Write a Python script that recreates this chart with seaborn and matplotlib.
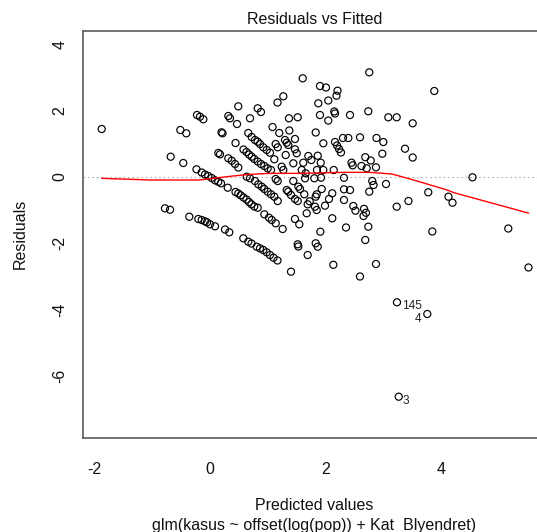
import matplotlib
matplotlib.use("Agg")
import matplotlib.pyplot as plt
import seaborn as sns
import numpy as np
import pandas as pd

# Fitted values (linear predictor) and deviance residuals of the Poisson GLM
fitted = [
    -1.872, -0.510, -0.407, -0.677, -0.459, -0.776, -0.689, -0.221, -0.169, -0.112,
    0.321, 0.350, 0.472, 0.494, 0.203, 0.221, 0.446, 0.148, 0.177, 0.321,
    0.380, 0.437, 0.494, -0.230, -0.140, -0.083, -0.025, 0.033, 0.091, 0.148,
    0.195, 0.311, 0.446, 0.494, 0.536, 0.584, 0.636, 0.680, 0.723, 0.771,
    0.830, 0.945, 1.026, 1.073, 1.142, 1.263, -0.355, -0.199, -0.140, -0.083,
    -0.048, 0.004, 0.091, 0.264, 0.338, 0.581, 0.667, 0.723, 0.813, 0.870,
    0.927, 0.986, 1.043, 1.104, 1.173, 0.640, 0.697, 0.783, 0.841, 0.900,
    0.945, 1.003, 1.061, 1.118, 1.177, 0.584, 0.636, 0.680, 0.726, 0.771,
    0.830, 0.887, 0.945, 1.003, 1.061, 1.142, 1.177, 1.333, 1.360, 1.407,
    1.476, 1.523, 0.667, 0.726, 0.783, 0.830, 0.870, 0.927, 0.986, 1.043,
    1.118, 1.246, 1.274, 1.447, 1.534, 1.563, 1.637, 0.697, 0.830, 0.887,
    1.087, 1.204, 1.378, 1.476, 1.274, 1.173, 1.372, 1.523, 1.610, 1.142,
    1.177, 1.303, 1.333, 1.360, 1.476, 1.506, 1.315, 1.447, 1.592, 1.662,
    1.620, 1.707, 1.759, 1.870, 1.922, 1.857, 1.967, 2.147, 1.650, 1.811,
    1.927, 1.852, 1.835, 1.939, 2.122, 2.065, 1.996, 1.823, 1.852, 1.696,
    1.679, 1.731, 1.476, 1.551, 2.122, 1.915, 1.523, 1.534, 1.835, 1.870,
    1.696, 2.140, 1.407, 1.909, 2.013, 2.213, 2.195, 2.053, 1.880, 2.157,
    2.169, 1.909, 2.053, 2.429, 2.746, 2.763, 3.093, 3.238, 3.515, 3.889,
    1.835, 1.967, 2.169, 2.204, 2.239, 2.273, 2.308, 2.400, 2.602, 2.888,
    3.006, 3.382, 3.515, 2.989, 2.694, 2.788, 2.455, 2.476, 2.628, 2.718,
    2.879, 2.325, 2.815, 2.836, 3.053, 2.763, 2.325, 2.429, 2.325, 2.486,
    2.524, 2.672, 2.706, 2.663, 3.238, 3.442, 3.785, 4.135, 4.205, 2.360,
    2.746, 3.855, 2.694, 2.879, 2.602, 4.551, 5.171, 5.521, 3.243, 3.768,
    3.273,
]
residuals = [
    1.447, 1.417, 1.317, 0.612, 0.422, -0.944, -0.986, 1.869, 1.818, 1.740,
    1.839, 1.770, 1.598, 2.131, 1.348, 1.317, 1.025, 0.724, 0.684, 0.564,
    0.491, 0.392, 0.286, 0.232, 0.136, 0.075, 0.030, -0.030, -0.099, -0.145,
    -0.190, -0.323, -0.452, -0.497, -0.552, -0.618, -0.678, -0.754, -0.823, -0.889,
    -0.926, -1.125, -1.227, -1.296, -1.396, -1.568, -1.197, -1.266, -1.296, -1.336,
    -1.366, -1.426, -1.486, -1.583, -1.667, -1.848, -1.951, -2.005, -2.101, -2.150,
    -2.201, -2.270, -2.352, -2.433, -2.517, 0.009, -0.039, -0.121, -0.220, -0.292,
    -0.362, -0.443, -0.522, -0.594, -0.724, 0.829, 0.754, 0.678, 0.612, 0.543,
    0.467, 0.392, 0.332, 0.262, 0.211, -0.060, -0.121, -0.392, -0.443, -0.543,
    -0.663, -0.724, 1.327, 1.206, 1.115, 1.064, 0.995, 0.895, 0.814, 0.733,
    0.534, 0.311, 0.211, -0.121, -0.292, -0.362, -0.522, 1.770, 2.071, 1.960,
    1.507, 1.327, 1.402, 1.146, 2.433, 2.246, 1.770, 1.800, 2.976, 0.995,
    0.895, 1.115, 1.034, 0.965, 0.835, 0.715, 0.663, 0.413, 0.211, 0.112,
    0.431, 0.633, 0.513, 0.642, 0.431, 0.211, 0.211, 0.211, -0.039, -0.039,
    -0.021, -0.522, -0.594, -0.362, -0.491, -0.663, -0.865, -0.895, -0.995, -0.823,
    -1.094, -0.733, -1.266, -1.426, -1.245, -1.649, -2.029, -2.095, -1.999, -2.101,
    -2.352, -2.647, -2.855, 2.743, 2.698, 2.602, 2.451, 2.306, 2.222, 1.975,
    1.914, 1.869, 1.703, 1.869, 1.981, 3.156, 1.800, 1.800, 1.619, 2.593,
    1.342, 1.016, 1.055, 0.950, 0.844, 0.739, 1.176, 1.176, 1.197, 1.176,
    1.055, 0.853, 0.588, 0.702, 0.597, 0.497, 0.431, 0.353, 0.332, 0.262,
    0.292, -0.024, -0.121, -0.241, -0.211, -0.443, -0.371, -0.392, -0.693, -0.874,
    -1.016, -0.959, -1.079, -1.176, -0.895, -0.724, -0.461, -0.594, -0.775, -1.522,
    -1.498, -1.643, -1.899, -2.623, -3.000, -0.009, -1.553, -2.728, -3.778, -4.130,
    -6.624,
]

# Observations flagged with the largest residuals
flagged_labels = ["145", "4", "3"]
flagged_fitted = [3.243, 3.768, 3.273]
flagged_resid = [-3.778, -4.130, -6.624]

# Lowess smoother through the residuals
smooth_fitted = [-1.872, -1.035, -0.169, 0.056, 0.402, 0.697, 1.043, 1.563,
                 2.320, 2.776, 3.157, 3.530, 4.110, 4.225, 5.525]
smooth_resid = [-0.04, -0.09, -0.09, -0.04, 0.03, 0.08, 0.11, 0.11,
                0.14, 0.14, 0.09, -0.09, -0.39, -0.47, -1.09]

x_ticks = [-2, 0, 2, 4]
y_ticks = [-6, -4, -2, 0, 2, 4]

sns.set_theme(style="white")
plt.rcParams["font.family"] = ["Liberation Sans", "DejaVu Sans"]

W, H = 537, 532
fig = plt.figure(figsize=(W / 100, H / 100), dpi=100)
left, right, top, bottom = 83, 548, 31, 438
ax = fig.add_axes([left / W, 1 - bottom / H, (right - left) / W, (bottom - top) / H])

df = pd.DataFrame({"fitted": fitted, "resid": residuals})
ax.axhline(0, color="#b0b0b0", lw=0.8, ls=(0, (1.5, 2.5)), zorder=1)
sns.scatterplot(data=df, x="fitted", y="resid", ax=ax, marker="o",
                facecolor="none", edgecolor="black", s=26, linewidth=0.85,
                zorder=3, legend=False)
smooth = pd.DataFrame({"fitted": smooth_fitted, "resid": smooth_resid})
sns.lineplot(data=smooth, x="fitted", y="resid", ax=ax, color="red", lw=1.0,
             sort=False, estimator=None, zorder=4)

offsets = {"145": (4, -3), "4": (-4, -3.5), "3": (3, -3)}
for lab, fx, ry in zip(flagged_labels, flagged_fitted, flagged_resid):
    dx, dy = offsets[lab]
    ax.annotate(lab, xy=(fx, ry), xytext=(dx, dy), textcoords="offset points",
                ha="left" if dx > 0 else "right", va="center", fontsize=8.6,
                color="#222222")

ax.set_xlim(-2.196, 5.859)
ax.set_ylim(-7.869, 4.402)
ax.set_xticks(x_ticks)
ax.set_yticks(y_ticks)
ax.set_xticklabels([str(t) for t in x_ticks])
ax.set_yticklabels([str(t) for t in y_ticks], rotation=90, va="center")
ax.set_xlabel("")
ax.set_ylabel("")
ax.tick_params(axis="both", direction="out", length=5, width=0.9,
               color="#333333", labelsize=11.5, labelcolor="#111111")
ax.tick_params(axis="x", pad=12)
ax.tick_params(axis="y", pad=6)
for sp in ax.spines.values():
    sp.set_color("#5a5a5a")
    sp.set_linewidth(1.2)

fig.text(315 / W, 1 - 19 / H, "Residuals vs Fitted", ha="center", va="center",
         fontsize=11.5, color="#111111")
fig.text(314 / W, 1 - 506 / H, "Predicted values", ha="center", va="center",
         fontsize=11.5, color="#111111")
fig.text(314 / W, 1 - 525 / H, "glm(kasus ~ offset(log(pop)) + Kat_Blyendret)",
         ha="center", va="center", fontsize=11.5, color="#111111")
fig.text(20 / W, 1 - 234 / H, "Residuals", ha="center", va="center",
         rotation=90, fontsize=11.5, color="#111111")

fig.savefig("out.png", dpi=100)
